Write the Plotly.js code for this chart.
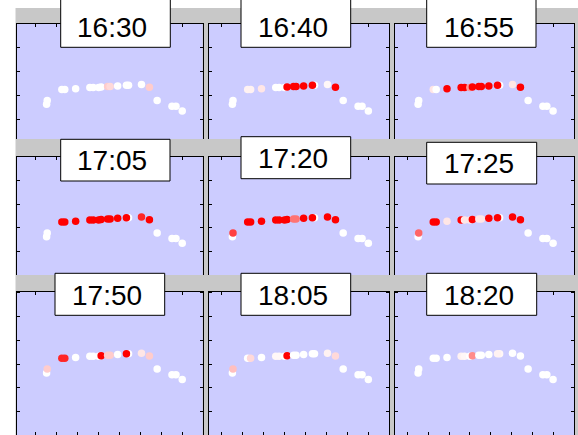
<!DOCTYPE html>
<html>
<head>
<meta charset="utf-8">
<script src="https://cdn.plot.ly/plotly-3.0.1.min.js"></script>
<style>
  html, body { margin: 0; padding: 0; background: #ffffff; }
  #chart { width: 578px; height: 435px; }
</style>
</head>
<body>
<div id="chart"></div>
<script>
// ---- data -------------------------------------------------------------
// snapshot times, one panel each (row by row)
const times = ['16:30', '16:40', '16:55', '17:05', '17:20', '17:25', '17:50', '18:05', '18:20'];

// station positions (same in every panel)
const xPos = [1.51, 1.54, 2.24, 2.38, 2.90, 3.58, 3.74, 4.00, 4.12, 4.43, 4.55, 4.91, 5.43, 5.33, 6.05, 6.43, 6.80, 7.51, 7.70, 8.00];
const yPos = [2.63, 2.79, 3.25, 3.25, 3.28, 3.33, 3.33, 3.33, 3.35, 3.37, 3.37, 3.40, 3.43, 3.43, 3.46, 3.34, 2.79, 2.55, 2.55, 2.35];

// intensity at each station (0 = none, 1 = full)
const heat1630 = [0, 0, 0, 0, 0, 0, 0, 0, 0, 0.2, 0.15, 0, 0, 0, 0, 0.2, 0, 0, 0, 0];
const heat1640 = [0, 0, 0.05, 0.05, 0.1, 0, 0, 0, 1, 1, 1, 1, 0, 1, 0.03, 1, 0, 0, 0, 0];
const heat1655 = [0, 0, 0.1, 0, 1, 1, 1, 0.4, 1, 1, 1, 1, 0, 1, 0.1, 1, 0, 0, 0, 0];
const heat1705 = [0, 0, 1, 1, 1, 1, 1, 1, 1, 1, 1, 1, 0, 1, 0.85, 1, 0, 0, 0, 0];
const heat1720 = [0, 0.75, 1, 1, 1, 1, 1, 1, 1, 0.55, 0.55, 1, 0, 1, 1, 1, 0, 0, 0, 0];
const heat1725 = [0, 0.6, 1, 1, 0.1, 1, 0.1, 0.1, 1, 0.1, 0.1, 1, 0, 1, 1, 1, 0, 0, 0, 0];
const heat1750 = [0, 0.2, 0.85, 0.85, 0, 0, 0, 0, 1, 0.2, 0.2, 0, 0, 1, 0.1, 0.2, 0, 0, 0, 0];
const heat1805 = [0, 0.25, 0, 0.15, 0, 0.03, 0.03, 0, 1, 0, 0, 0, 0, 0, 0.05, 0.15, 0, 0, 0, 0];
const heat1820 = [0, 0, 0, 0, 0, 0.05, 0.03, 0, 0.45, 0, 0, 0, 0.03, 0.05, 0, 0, 0, 0, 0, 0];

const heats = [heat1630, heat1640, heat1655, heat1705, heat1720, heat1725, heat1750, heat1805, heat1820];

// ---- page geometry (pixels) ----------------------------------------------
const W = 578, H = 435;
const colSpans = [[16.5, 202.5], [208.5, 389.3], [395, 574.3]];
const colRanges = [[0.07, 8.97], [0.37, 9.0], [0.40, 9.02]];
const rowSpans = [[24, 139], [156.5, 275], [291.5, 435]];
const rowRanges = [[1.17, 6], [1.02, 6], [0.02, 6.05]];

// title boxes [x0, x1, y0, y1] and text centres [cx, cy]
const boxes = [
  [60.7, 170.3, -6, 47.3], [241, 350.7, -6, 47.3], [426.7, 536, -6, 47.3],
  [60.7, 170, 139.3, 181], [241, 350.7, 136.7, 178.7], [426.7, 536.7, 142.3, 184],
  [55, 164.7, 273.3, 315.3], [241, 350.7, 273.3, 315.3], [426.7, 536.7, 273.3, 315.3]
];
const textCentres = [
  [112, 27], [292.5, 27], [478.7, 27],
  [112, 160.8], [292.5, 158.7], [478.7, 163.8],
  [106.7, 295], [292.5, 295], [478.7, 295]
];

const px = v => v / W;
const py = v => 1 - v / H;

const traces = [];
const layout = {
  width: W, height: H,
  margin: { l: 0, r: 0, t: 0, b: 0, pad: 0 },
  paper_bgcolor: '#c8c8c8',
  plot_bgcolor: '#ccccff',
  showlegend: false,
  shapes: [
    { type: 'rect', xref: 'paper', yref: 'paper', layer: 'below',
      x0: 0, x1: 1, y0: py(8), y1: 1, fillcolor: '#ffffff', line: { width: 0 } },
    { type: 'rect', xref: 'paper', yref: 'paper', layer: 'below',
      x0: 0, x1: px(15.5), y0: 0, y1: 1, fillcolor: '#ffffff', line: { width: 0 } }
  ],
  annotations: []
};

times.forEach((t, i) => {
  const row = Math.floor(i / 3), col = i % 3;
  const n = i + 1;
  const xa = 'xaxis' + (n === 1 ? '' : n), ya = 'yaxis' + (n === 1 ? '' : n);
  const xr = 'x' + (n === 1 ? '' : n), yr = 'y' + (n === 1 ? '' : n);
  const bottomRow = row === 2;

  layout[xa] = {
    domain: [px(colSpans[col][0]), px(colSpans[col][1])],
    range: colRanges[col],
    anchor: yr,
    side: bottomRow ? 'bottom' : 'top',
    mirror: bottomRow ? 'ticks' : false,
    showline: true, linecolor: '#000000', linewidth: 1,
    ticks: 'inside', ticklen: 3, tickwidth: 1, tickcolor: '#000000',
    tick0: 0, dtick: 1,
    showticklabels: false, showgrid: false, zeroline: false, fixedrange: true
  };
  layout[ya] = {
    domain: [py(rowSpans[row][1]), py(rowSpans[row][0])],
    range: rowRanges[row],
    anchor: xr,
    mirror: 'ticks',
    showline: true, linecolor: '#000000', linewidth: 1,
    ticks: 'inside', ticklen: 3, tickwidth: 1, tickcolor: '#000000',
    tick0: 0, dtick: 1,
    showticklabels: false, showgrid: false, zeroline: false, fixedrange: true
  };

  traces.push({
    type: 'scatter', mode: 'markers',
    x: xPos, y: yPos, xaxis: xr, yaxis: yr,
    cliponaxis: true,
    marker: {
      size: 7.5,
      color: heats[i],
      cmin: 0, cmax: 1,
      colorscale: [[0, '#ffffff'], [1, '#ff0000']],
      showscale: false,
      line: { width: 0 }
    },
    hoverinfo: 'skip'
  });

  const b = boxes[i];
  layout.shapes.push({
    type: 'rect', xref: 'paper', yref: 'paper', layer: 'above',
    x0: px(b[0]), x1: px(b[1]), y0: py(b[3]), y1: py(b[2]),
    fillcolor: '#ffffff', line: { color: '#000000', width: 1 }
  });
  const c = textCentres[i];
  layout.annotations.push({
    xref: 'paper', yref: 'paper',
    x: px(c[0]), y: py(c[1]),
    xanchor: 'center', yanchor: 'middle',
    text: t, showarrow: false,
    font: { family: 'Liberation Sans, Arial, sans-serif', size: 28, color: '#000000' }
  });
});

Plotly.newPlot('chart', traces, layout, { staticPlot: true, displayModeBar: false });
</script>
</body>
</html>
